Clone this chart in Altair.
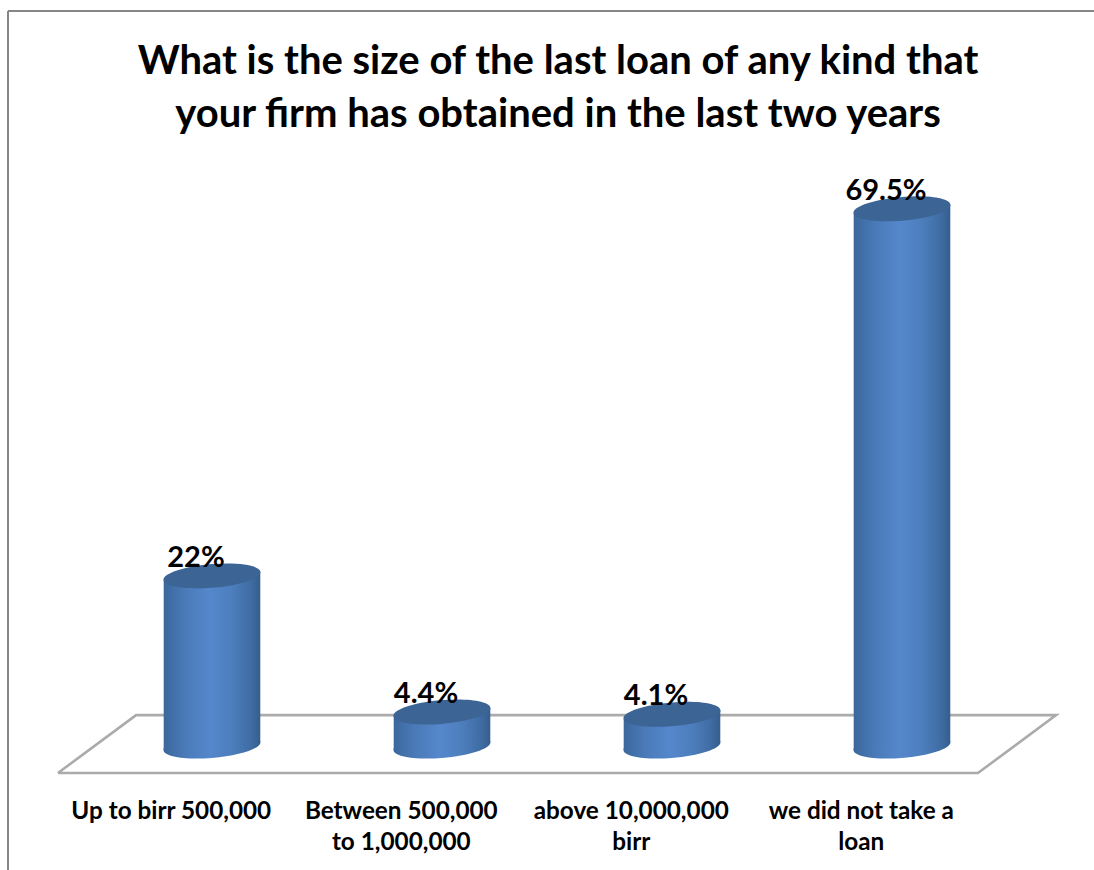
import altair as alt
import pandas as pd

# Survey results
categories = ["Up to birr 500,000", "Between 500,000\nto 1,000,000", "above 10,000,000\nbirr", "we did not take a\nloan"]
shares = [22.0, 4.4, 4.1, 69.5]
share_labels = ["22%", "4.4%", "4.1%", "69.5%"]
title_lines = ["What is the size of the last loan of any kind that", "your firm has obtained in the last two years"]

# Floor outline of the 3-D plot, in axis units
floor_x = [-0.67, -0.33, 3.67, 3.33, -0.67]
floor_y = [-3.5, 4.0, 4.0, -3.5, -3.5]

RADIUS = 0.21      # cylinder half-width, in category units
TILT = 0.52        # rise of the rim from centre to side, in value units
FONT = "Lato"

x_scale = alt.Scale(domain=[-0.9217, 3.8348], nice=False, zero=False)
y_scale = alt.Scale(domain=[-16.04, 96.51], nice=False, zero=False)
X = lambda f: alt.X(f, type="quantitative", scale=x_scale, axis=None)
Y = lambda f: alt.Y(f, type="quantitative", scale=y_scale, axis=None)

side_gradient = alt.LinearGradient(
    gradient="linear", x1=0, x2=1, y1=0, y2=0,
    stops=[
        alt.GradientStop(color="#3b679c", offset=0),
        alt.GradientStop(color="#4a7ab8", offset=0.22),
        alt.GradientStop(color="#5587cc", offset=0.48),
        alt.GradientStop(color="#4c7dbb", offset=0.72),
        alt.GradientStop(color="#3f6ca3", offset=0.9),
        alt.GradientStop(color="#365e8e", offset=1),
    ],
)


def rim_path(b=0.245, s=0.08, k=0.5523):
    """Sheared ellipse in the unit square, used as a custom point symbol."""
    pts = [
        (1, 0), (1, k * b), (k, b), (0, b), (-k, b), (-1, k * b), (-1, 0),
        (-1, -k * b), (-k, -b), (0, -b), (k, -b), (1, -k * b), (1, 0),
    ]
    p = [f"{x:.4f},{y - s * x:.4f}" for x, y in pts]
    return f"M{p[0]} C{p[1]} {p[2]} {p[3]} C{p[4]} {p[5]} {p[6]} C{p[7]} {p[8]} {p[9]} C{p[10]} {p[11]} {p[12]} Z"


RIM = rim_path()
RIM_SIZE = 97 ** 2

bars = pd.DataFrame({"pos": range(4), "cat": categories, "share": shares, "label": share_labels})
bars["label_x"] = bars["pos"] - 0.177
bars["zero"] = 0.0
bars["cat_y"] = -9.45

sides = pd.DataFrame([
    {"pos": i, "x": i + d * RADIUS, "top": v + d * TILT, "bottom": d * TILT}
    for i, v in enumerate(shares) for d in (-1, 1)
])
floor = pd.DataFrame({"order": range(len(floor_x)), "x": floor_x, "y": floor_y})

floor_layer = alt.Chart(floor).mark_line(color="#ababab", strokeWidth=2.6).encode(
    x=X("x"), y=Y("y"), order="order:O"
)
base_layer = alt.Chart(bars).mark_point(
    shape=RIM, size=RIM_SIZE, filled=True, color=side_gradient, opacity=1
).encode(x=X("pos"), y=Y("zero"))
side_layer = alt.Chart(sides).mark_area(color=side_gradient).encode(
    x=X("x"), y=Y("top"), y2=alt.Y2("bottom"), detail="pos:N"
)
top_layer = alt.Chart(bars).mark_point(
    shape=RIM, size=RIM_SIZE, filled=True, color="#3c6495", opacity=1
).encode(x=X("pos"), y=Y("share"))
value_layer = alt.Chart(bars).mark_text(
    font=FONT, fontWeight="bold", fontSize=29, color="black", dx=-16, dy=-9, baseline="alphabetic"
).encode(x=X("pos"), y=Y("share"), text="label:N")
cat_layer = alt.Chart(bars).mark_text(
    font=FONT, fontWeight="bold", fontSize=24.3, color="black", lineBreak="\n", lineHeight=31, baseline="alphabetic"
).encode(x=X("label_x"), y=Y("cat_y"), text="cat:N")
left_border = alt.Chart(bars).mark_rule(color="#868686", strokeWidth=2).encode(
    x=alt.value(8), y=alt.value(11), y2=alt.value(870)
)
top_border = alt.Chart(bars).mark_rule(color="#868686", strokeWidth=2).encode(
    x=alt.value(8), x2=alt.value(1094), y=alt.value(11)
)

chart = alt.layer(
    left_border, top_border, floor_layer, base_layer, side_layer, top_layer, value_layer, cat_layer
).properties(
    width=1094,
    height=870,
    padding=0,
    autosize=alt.AutoSizeParams(type="none"),
    background="white",
    title=alt.TitleParams(
        text=title_lines, font=FONT, fontWeight="bold", fontSize=40, color="black",
        lineHeight=53, anchor="middle", dx=11, offset=-167, baseline="alphabetic",
    ),
).configure_view(stroke=None)

chart.save("out.html", embed_options={"renderer": "svg", "actions": False})
